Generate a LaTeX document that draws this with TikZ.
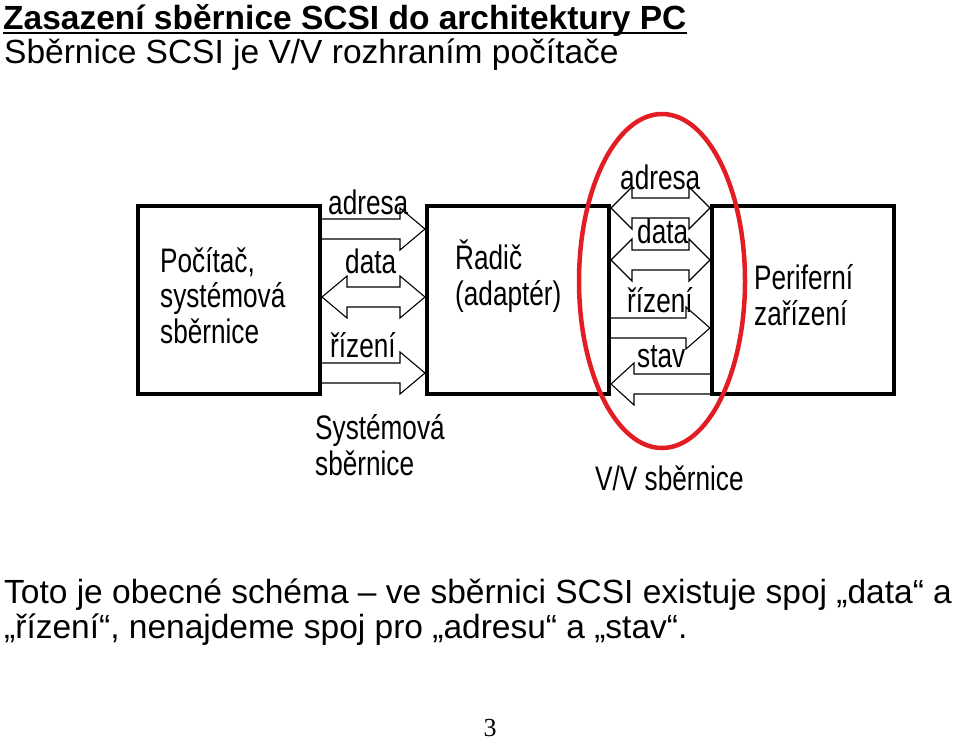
\documentclass[tikz,border=0pt]{standalone}
\usepackage{fontspec}
\setmainfont{Liberation Sans}
\newfontfamily\narrowfont[FakeStretch=0.77]{Liberation Sans}
\newfontfamily\pagefont{Liberation Serif}
\usetikzlibrary{calc,shapes.geometric}
\definecolor{ovalred}{RGB}{226,30,36}

\newcommand{\busR}[4]{\draw[bus] ($(#1.east |- 0,#3)+(0,-10)$) -- ($(#2.west |- 0,#3)+(-#4,-10)$)
    -- ++(0,-11) -- (#2.west |- 0,#3) -- ++(-#4,21) -- ++(0,-11) -- ($(#1.east |- 0,#3)+(0,10)$);}
\newcommand{\busL}[4]{\draw[bus] ($(#2.west |- 0,#3)+(0,-10)$) -- ($(#1.east |- 0,#3)+(#4,-10)$)
    -- ++(0,-11) -- (#1.east |- 0,#3) -- ++(#4,21) -- ++(0,-11) -- ($(#2.west |- 0,#3)+(0,10)$);}
\newcommand{\busLR}[4]{\draw[bus] (#1.east |- 0,#3) -- ++(#4,-21) -- ++(0,11) -- ($(#2.west |- 0,#3)+(-#4,-10)$)
    -- ++(0,-11) -- (#2.west |- 0,#3) -- ++(-#4,21) -- ++(0,-11) -- ($(#1.east |- 0,#3)+(#4,10)$) -- ++(0,11) -- cycle;}

\begin{document}
\begin{tikzpicture}[x=1pt,y=-1pt,
        unit/.style={draw,line width=4pt,minimum width=182pt,minimum height=188pt,inner sep=0pt},
        bus/.style={draw,line width=1.1pt,line join=miter},
        lbl/.style={anchor=base west,inner sep=0pt,align=left,font=\narrowfont\fontsize{34}{35.5}\selectfont},
        slide/.style={anchor=base west,inner sep=0pt,align=left,font=\fontsize{33.5}{35}\selectfont},
        ring/.style={ellipse,draw=ovalred,line width=4.5pt,minimum width=166pt,minimum height=334pt,inner sep=0pt}]

    \useasboundingbox (0,0) rectangle (960,742);

    \node[slide,font=\bfseries\fontsize{33.5}{35}\selectfont] (title) at (3,29) {Zasazení sběrnice SCSI do architektury PC};
    \draw[line width=2.4pt] ([yshift=-4pt]title.base west) -- ([yshift=-4pt]title.base east);
    \node[slide] (subtitle) at (4,63) {Sběrnice SCSI je V/V rozhraním počítače};

    \node[unit] (pc) at (229,300) {};
    \node[unit] (ctrl) at (518,300) {};
    \node[unit] (dev) at (803,300) {};

    % base of a multi-line node sits on its last line
    \node[lbl] (pctext) at (160,343) {Počítač,\\systémová\\sběrnice};
    \node[lbl] (ctrltext) at (455,305) {Řadič\\(adaptér)};
    \node[lbl] (devtext) at (754,325) {Periferní\\zařízení};

    \busR{pc}{ctrl}{229}{25}
    \busLR{pc}{ctrl}{297}{25}
    \busR{pc}{ctrl}{373}{25}
    \node[lbl] (sysadr) at (328,214) {adresa};
    \node[lbl] (sysdat) at (345,273) {data};
    \node[lbl] (sysctl) at (330,357) {řízení};

    \busLR{ctrl}{dev}{208}{21}
    \busLR{ctrl}{dev}{260}{21}
    \busR{ctrl}{dev}{328}{24}
    \busL{ctrl}{dev}{384}{23}
    \node[lbl] (vvadr) at (620,189) {adresa};
    \node[lbl] (vvdat) at (637,243) {data};
    \node[lbl] (vvctl) at (627,312) {řízení};
    \node[lbl] (vvst) at (637,367) {stav};

    \node[lbl] (systext) at (315,475) {Systémová\\sběrnice};
    \node[lbl] (vvtext) at (595,490) {V/V sběrnice};

    \node[ring] (vvring) at (662,281) {};

    \node[slide] (note) at (4,638) {Toto je obecné schéma – ve sběrnici SCSI existuje spoj „data“ a\\„řízení“, nenajdeme spoj pro „adresu“ a „stav“.};
    \node[anchor=base,inner sep=0pt,font=\pagefont\fontsize{26}{26}\selectfont] (pageno) at (490,736) {3};
\end{tikzpicture}
\end{document}
